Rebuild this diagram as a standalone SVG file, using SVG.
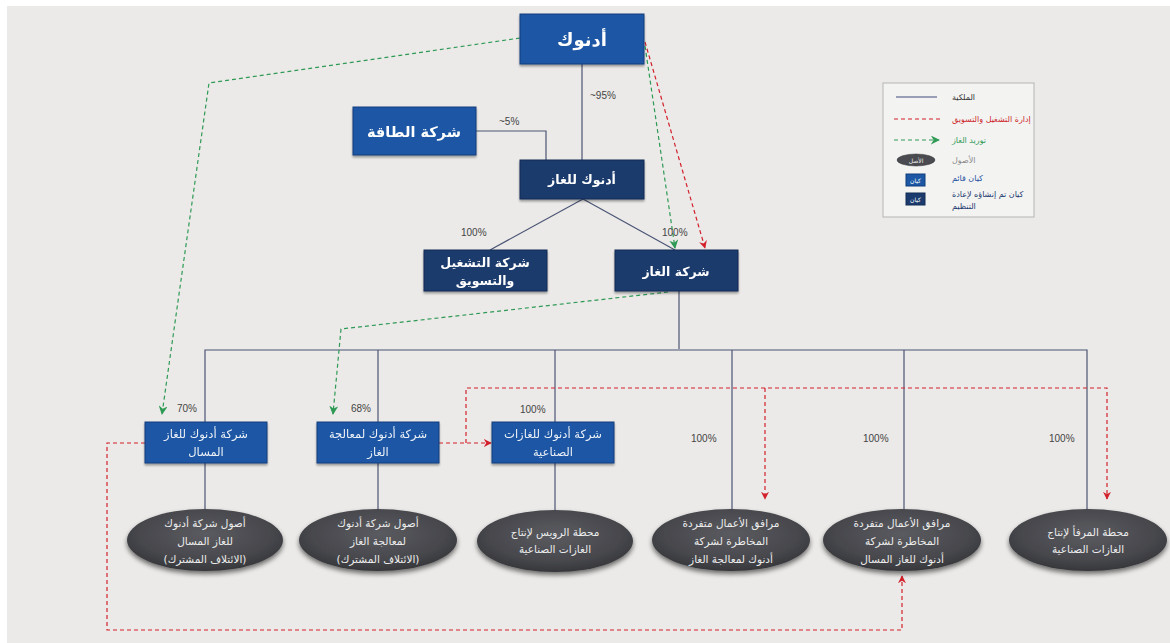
<svg xmlns="http://www.w3.org/2000/svg" width="1170" height="643" viewBox="0 0 1170 643">
<defs>
<style>
.ar{font-family:"DejaVu Sans","Noto Sans",sans-serif;direction:rtl}
.pct{font-family:"Liberation Sans",Arial,sans-serif;font-size:10px;fill:#444}
.b1{fill:#1b57a4;stroke:#123f7c;stroke-width:1}
.b2{fill:#1b3a6d;stroke:#142c55;stroke-width:1}
.bt{fill:#fff;font-weight:bold;text-anchor:middle}
.nt{fill:#eef2f8;font-size:11.5px;text-anchor:middle}
.et{fill:#ececec;font-size:10.5px;text-anchor:middle}
.own{stroke:#4b5575;stroke-width:1.2;fill:none}
.red{stroke:#d3202b;stroke-width:1.2;fill:none;stroke-dasharray:4 3}
.grn{stroke:#2f9a55;stroke-width:1.2;fill:none;stroke-dasharray:4 3}
.ell{fill:url(#eg);filter:url(#sh)}
.lg{font-size:8px;text-anchor:end}
</style>
<radialGradient id="eg" cx="50%" cy="40%" r="60%">
<stop offset="0" stop-color="#5a5b60"/>
<stop offset="0.7" stop-color="#47484d"/>
<stop offset="1" stop-color="#36373b"/>
</radialGradient>
<filter id="sh" x="-20%" y="-20%" width="140%" height="150%">
<feGaussianBlur in="SourceAlpha" stdDeviation="2.5"/>
<feOffset dy="3" result="o"/>
<feComponentTransfer><feFuncA type="linear" slope="0.55"/></feComponentTransfer>
<feMerge><feMergeNode/><feMergeNode in="SourceGraphic"/></feMerge>
</filter>
<filter id="bs" x="-10%" y="-10%" width="120%" height="130%">
<feGaussianBlur in="SourceAlpha" stdDeviation="1.2"/>
<feOffset dy="1.5"/>
<feComponentTransfer><feFuncA type="linear" slope="0.35"/></feComponentTransfer>
<feMerge><feMergeNode/><feMergeNode in="SourceGraphic"/></feMerge>
</filter>
<marker id="ar" viewBox="0 0 10 10" refX="9" refY="5" markerWidth="8" markerHeight="8" orient="auto" markerUnits="userSpaceOnUse"><path d="M0,0 L10,5 L0,10 L3,5 z" fill="#d3202b"/></marker>
<marker id="ag" viewBox="0 0 10 10" refX="9" refY="5" markerWidth="9" markerHeight="9" orient="auto" markerUnits="userSpaceOnUse"><path d="M0,0 L10,5 L0,10 L3,5 z" fill="#2f9a55"/></marker>
</defs>

<rect x="0" y="0" width="1170" height="643" fill="#ffffff"/>
<rect x="7" y="6" width="1163" height="637" fill="#ebeae8"/>

<g id="connectors">
<path class="own" d="M582,64 V160"/>
<path class="own" d="M476,131 H546 V160"/>
<path class="own" d="M583,199 L490,250"/>
<path class="own" d="M583,199 L675,250"/>
<path class="own" d="M679,291 V349"/>
<path class="own" d="M205,423 V350 H1087 V510"/>
<path class="own" d="M378,350 V423"/>
<path class="own" d="M555,350 V423"/>
<path class="own" d="M732,350 V510"/>
<path class="own" d="M904,350 V510"/>
<path class="own" d="M205,463 V510"/>
<path class="own" d="M378,463 V510"/>
<path class="own" d="M555,463 V510"/>
<path class="grn" d="M520,38 L209,83 L162,414" marker-end="url(#ag)"/>
<path class="grn" d="M645,46 L675,248" marker-end="url(#ag)"/>
<path class="grn" d="M668,292 L341,329 L333,414" marker-end="url(#ag)"/>
<path class="red" d="M645,42 L705,248" marker-end="url(#ar)"/>
<path class="red" d="M439,443 H491" marker-end="url(#ar)"/>
<path class="red" d="M466,443 V388 H1107 V499" marker-end="url(#ar)"/>
<path class="red" d="M765,388 V499" marker-end="url(#ar)"/>
<path class="red" d="M145,443 H107 V630 H902 V576" marker-end="url(#ar)"/>
</g>

<g id="labels">
<text class="pct" x="590" y="99">~95%</text>
<text class="pct" x="499" y="125">~5%</text>
<text class="pct" x="461" y="236">100%</text>
<text class="pct" x="662" y="236">100%</text>
<text class="pct" x="177" y="412">70%</text>
<text class="pct" x="351" y="412">68%</text>
<text class="pct" x="520" y="413">100%</text>
<text class="pct" x="691" y="442">100%</text>
<text class="pct" x="863" y="442">100%</text>
<text class="pct" x="1049" y="442">100%</text>
</g>

<g id="adnoc" filter="url(#bs)">
<rect class="b1" x="520" y="14" width="124" height="50"/>
<text class="ar bt" x="582" y="46" font-size="18">أدنوك</text>
</g>
<g id="taqa" filter="url(#bs)">
<rect class="b1" x="353" y="107" width="123" height="48"/>
<text class="ar bt" x="414" y="137" font-size="14.5">شركة الطاقة</text>
</g>
<g id="adnoc-gas" filter="url(#bs)">
<rect class="b2" x="520" y="160" width="124" height="39"/>
<text class="ar bt" x="582" y="184" font-size="12.5">أدنوك للغاز</text>
</g>
<g id="ops-marketing" filter="url(#bs)">
<rect class="b2" x="424" y="250" width="123" height="41"/>
<text class="ar bt" x="485" y="267" font-size="12.5">شركة التشغيل</text>
<text class="ar bt" x="485" y="285" font-size="12.5">والتسويق</text>
</g>
<g id="gas-co" filter="url(#bs)">
<rect class="b2" x="615" y="250" width="123" height="41"/>
<text class="ar bt" x="676" y="276" font-size="12.5">شركة الغاز</text>
</g>

<g id="adnoc-lng" filter="url(#bs)">
<rect class="b1" x="145" y="422" width="122" height="41"/>
<text class="ar nt" x="206" y="438">شركة أدنوك للغاز</text>
<text class="ar nt" x="206" y="456">المسال</text>
</g>
<g id="adnoc-gas-processing" filter="url(#bs)">
<rect class="b1" x="317" y="422" width="122" height="41"/>
<text class="ar nt" x="378" y="438">شركة أدنوك لمعالجة</text>
<text class="ar nt" x="378" y="456">الغاز</text>
</g>
<g id="adnoc-industrial-gases" filter="url(#bs)">
<rect class="b1" x="492" y="422" width="122" height="41"/>
<text class="ar nt" x="553" y="438">شركة أدنوك للغازات</text>
<text class="ar nt" x="553" y="456">الصناعية</text>
</g>

<g id="asset-lng">
<ellipse class="ell" cx="205" cy="540" rx="78" ry="31"/>
<text class="ar et" x="205" y="527">أصول شركة أدنوك</text>
<text class="ar et" x="205" y="545">للغاز المسال</text>
<text class="ar et" x="205" y="563">(الائتلاف المشترك)</text>
</g>
<g id="asset-gas-processing">
<ellipse class="ell" cx="378" cy="540" rx="79" ry="31"/>
<text class="ar et" x="378" y="527">أصول شركة أدنوك</text>
<text class="ar et" x="378" y="545">لمعالجة الغاز</text>
<text class="ar et" x="378" y="563">(الائتلاف المشترك)</text>
</g>
<g id="asset-ruwais">
<ellipse class="ell" cx="555" cy="541" rx="78" ry="31"/>
<text class="ar et" x="555" y="536">محطة الرويس لإنتاج</text>
<text class="ar et" x="555" y="553">الغازات الصناعية</text>
</g>
<g id="asset-gp-facilities">
<ellipse class="ell" cx="731" cy="540" rx="79" ry="31"/>
<text class="ar et" x="731" y="527">مرافق الأعمال متفردة</text>
<text class="ar et" x="731" y="545">المخاطرة لشركة</text>
<text class="ar et" x="731" y="563">أدنوك لمعالجة الغاز</text>
</g>
<g id="asset-lng-facilities">
<ellipse class="ell" cx="902" cy="540" rx="79" ry="31"/>
<text class="ar et" x="902" y="527">مرافق الأعمال متفردة</text>
<text class="ar et" x="902" y="545">المخاطرة لشركة</text>
<text class="ar et" x="902" y="563">أدنوك للغاز المسال</text>
</g>
<g id="asset-port">
<ellipse class="ell" cx="1088" cy="540" rx="79" ry="31"/>
<text class="ar et" x="1088" y="536">محطة المرفأ لإنتاج</text>
<text class="ar et" x="1088" y="553">الغازات الصناعية</text>
</g>

<g id="legend">
<rect x="883" y="83" width="151" height="134" fill="#f3f3f2" stroke="#b5b5b5" stroke-width="1"/>
<line x1="896" y1="97" x2="937" y2="97" stroke="#3d4a78" stroke-width="1.2"/>
<text class="ar lg" x="952" y="100" fill="#333">الملكية</text>
<line class="red" x1="894" y1="119" x2="940" y2="119"/>
<text class="ar lg" x="952" y="122" fill="#cc1f2a">إدارة التشغيل والتسويق</text>
<line class="grn" x1="894" y1="140" x2="939" y2="140" marker-end="url(#ag)"/>
<text class="ar lg" x="952" y="143" fill="#2f9a55">توريد الغاز</text>
<ellipse cx="916" cy="160" rx="19" ry="6" fill="#4a4b50" stroke="#333" stroke-width="0.5"/>
<text class="ar" x="916" y="162.5" fill="#eee" font-size="6" text-anchor="middle">الأصل</text>
<text class="ar lg" x="952" y="163" fill="#8a8a8a">الأصول</text>
<rect class="b1" x="906" y="174" width="19" height="12"/>
<text class="ar" x="915.5" y="182.5" fill="#fff" font-size="6" text-anchor="middle">كيان</text>
<text class="ar lg" x="952" y="181" fill="#2452a0">كيان قائم</text>
<rect class="b2" x="906" y="193" width="19" height="12"/>
<text class="ar" x="915.5" y="201.5" fill="#fff" font-size="6" text-anchor="middle">كيان</text>
<text class="ar lg" x="952" y="197" fill="#1e3a70">كيان تم إنشاؤه لإعادة</text>
<text class="ar lg" x="952" y="209" fill="#1e3a70">التنظيم</text>
</g>
</svg>
